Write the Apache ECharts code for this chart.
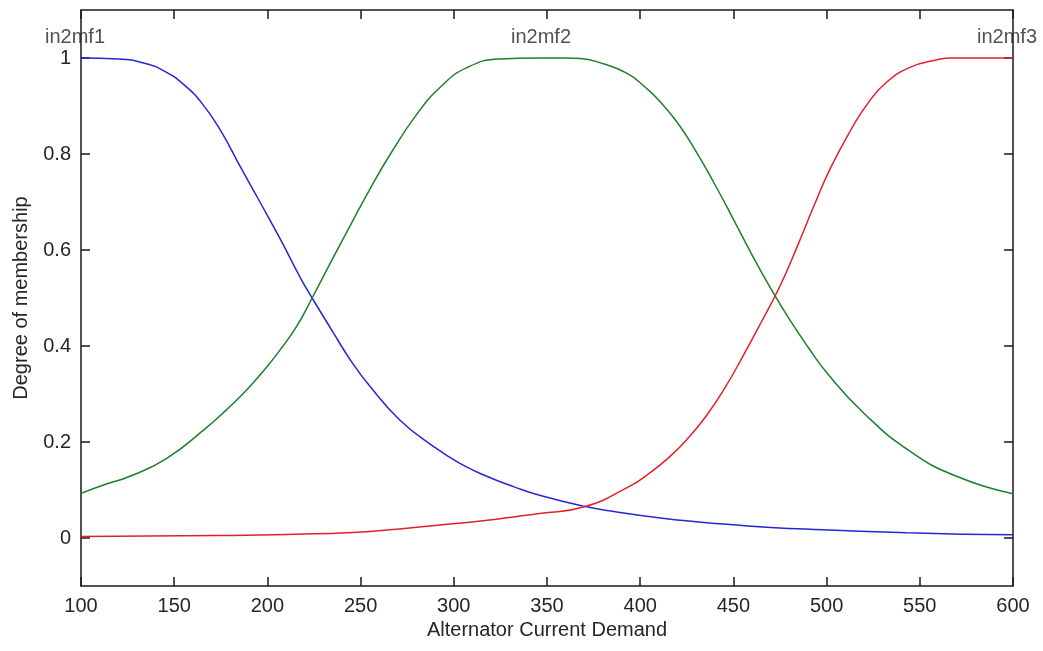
<!DOCTYPE html>
<html>
<head>
<meta charset="utf-8">
<title>Membership functions: Alternator Current Demand</title>
<script src="https://cdn.jsdelivr.net/npm/echarts@6/dist/echarts.min.js"></script>
<style>
  html, body { margin: 0; padding: 0; background: #ffffff; }
  #chart { width: 1043px; height: 651px; }
</style>
</head>
<body>
<div id="chart"></div>
<script>
// Membership curves sampled as [current demand, degree of membership]
const in2mf1 = [
  [100, 1.0], [120, 0.998], [135, 0.988], [145, 0.972], [155, 0.945], [165, 0.905],
  [175, 0.848], [185, 0.777], [196, 0.70], [207, 0.622], [218, 0.54], [224, 0.50],
  [235, 0.43], [245, 0.368], [255, 0.316], [271, 0.246], [289, 0.191], [303, 0.156],
  [318, 0.128], [332, 0.107], [346, 0.089], [370, 0.066], [386, 0.055], [412, 0.041],
  [430, 0.034], [452, 0.027], [470, 0.022], [498, 0.017], [518, 0.014], [543, 0.011],
  [573, 0.008], [600, 0.007]
];
const in2mf2 = [
  [100, 0.093], [114, 0.113], [126, 0.128], [146, 0.166], [167, 0.229], [178, 0.267],
  [189, 0.309], [200, 0.358], [208, 0.398], [216, 0.443], [224, 0.50], [235, 0.582],
  [245, 0.655], [255, 0.727], [266, 0.80], [280, 0.882], [293, 0.94], [307, 0.98],
  [325, 0.998], [345, 1.0], [360, 1.0], [368, 0.999], [377, 0.992], [393, 0.968],
  [403, 0.938], [410, 0.912], [420, 0.865], [430, 0.805], [440, 0.737], [450, 0.664],
  [460, 0.59], [470, 0.52], [480, 0.456], [490, 0.398], [500, 0.345], [520, 0.26],
  [545, 0.18], [570, 0.128], [600, 0.092]
];
const in2mf3 = [
  [100, 0.003], [173, 0.005], [215, 0.008], [243, 0.011], [271, 0.019], [298, 0.029],
  [318, 0.037], [334, 0.045], [346, 0.051], [370, 0.065], [394, 0.107], [405, 0.135],
  [416, 0.17], [425, 0.205], [435, 0.252], [445, 0.31], [455, 0.378], [465, 0.45],
  [475, 0.525], [484, 0.605], [493, 0.69], [502, 0.77], [513, 0.85], [522, 0.905],
  [532, 0.949], [545, 0.981], [559, 0.996], [567, 1.0], [600, 1.0]
];

// Names printed above each function's peak
const mfNames = ['in2mf1', 'in2mf2', 'in2mf3'];
const mfPeaks = [100, 350, 600];

// Axis ranges and tick values
const xRange = [100, 600];
const xStep = 50;
const yRange = [-0.1, 1.1];
const yTicks = [0, 0.2, 0.4, 0.6, 0.8, 1];

const textColor = '#262626';
const axisColor = '#1a1a1a';
const fontFamily = 'Liberation Sans, Arial, sans-serif';
const fontSize = 20;

const chart = echarts.init(document.getElementById('chart'), null, { renderer: 'canvas' });

const boxAxisLine = { show: true, onZero: false, lineStyle: { color: axisColor, width: 1.5 } };
const insideTicks = { show: true, inside: true, length: 9, lineStyle: { color: axisColor, width: 1.5 } };

function line(name, data, color) {
  return {
    name: name,
    type: 'line',
    data: data,
    showSymbol: false,
    smooth: 0.5,
    lineStyle: { color: color, width: 1.5 },
    itemStyle: { color: color },
    z: 3,
    animation: false
  };
}

chart.setOption({
  backgroundColor: '#ffffff',
  animation: false,
  grid: { left: 81, right: 30, top: 10, bottom: 65, outerBoundsMode: 'none' },
  xAxis: [
    {
      type: 'value',
      position: 'bottom',
      min: xRange[0],
      max: xRange[1],
      interval: xStep,
      name: 'Alternator Current Demand',
      nameLocation: 'middle',
      nameGap: 34,
      nameTextStyle: { color: textColor, fontSize: fontSize, fontFamily: fontFamily },
      axisLine: boxAxisLine,
      axisTick: insideTicks,
      splitLine: { show: false },
      axisLabel: { color: textColor, fontSize: fontSize, fontFamily: fontFamily, margin: 10 }
    },
    {
      type: 'value',
      position: 'top',
      min: xRange[0],
      max: xRange[1],
      interval: xStep,
      axisLine: boxAxisLine,
      axisTick: insideTicks,
      splitLine: { show: false },
      axisLabel: { show: false }
    }
  ],
  yAxis: [
    {
      type: 'value',
      position: 'left',
      min: yRange[0],
      max: yRange[1],
      name: 'Degree of membership',
      nameLocation: 'middle',
      nameGap: 50,
      nameTextStyle: { color: textColor, fontSize: fontSize, fontFamily: fontFamily },
      axisLine: boxAxisLine,
      axisTick: Object.assign({}, insideTicks, { customValues: yTicks }),
      splitLine: { show: false },
      axisLabel: {
        color: textColor, fontSize: fontSize, fontFamily: fontFamily, margin: 10,
        customValues: yTicks,
        formatter: function (v) { return String(Math.round(v * 10) / 10); }
      }
    },
    {
      type: 'value',
      position: 'right',
      min: yRange[0],
      max: yRange[1],
      axisLine: boxAxisLine,
      axisTick: Object.assign({}, insideTicks, { customValues: yTicks }),
      splitLine: { show: false },
      axisLabel: { show: false, customValues: yTicks }
    }
  ],
  series: [
    line('in2mf1', in2mf1, '#2626d6'),
    line('in2mf2', in2mf2, '#1f7f2a'),
    line('in2mf3', in2mf3, '#e0202c'),
    {
      name: 'labels',
      type: 'scatter',
      symbolSize: 0,
      silent: true,
      data: mfNames.map(function (n, i) { return [mfPeaks[i], 1, n]; }),
      label: {
        show: true,
        position: 'inside',
        offset: [-6, -21],
        color: textColor,
        fontSize: fontSize,
        fontFamily: fontFamily,
        formatter: function (p) { return p.value[2]; }
      },
      z: 5,
      animation: false
    }
  ]
});
</script>
</body>
</html>
